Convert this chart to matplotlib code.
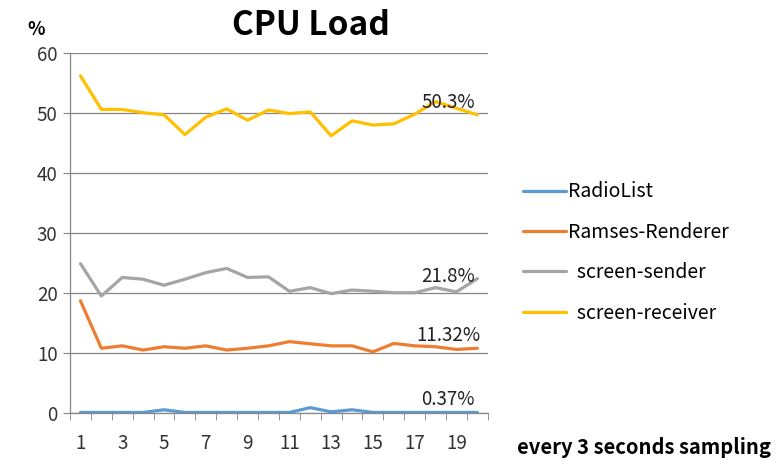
import numpy as np
import matplotlib
matplotlib.use('Agg')
import matplotlib.pyplot as plt

plt.rcParams['font.family'] = ['Noto Sans CJK KR', 'DejaVu Sans']

samples = list(range(1, 21))
radio_list = [0.1, 0.1, 0.1, 0.1, 0.55, 0.1, 0.1, 0.1, 0.1, 0.1,
              0.1, 0.9, 0.2, 0.55, 0.1, 0.1, 0.1, 0.1, 0.1, 0.1]
ramses = [18.7, 10.8, 11.2, 10.5, 11.05, 10.8, 11.2, 10.5, 10.8, 11.2,
          11.9, 11.55, 11.2, 11.2, 10.2, 11.6, 11.2, 11.05, 10.6, 10.8]
sender = [24.9, 19.5, 22.6, 22.3, 21.3, 22.3, 23.4, 24.1, 22.6, 22.7,
          20.3, 20.9, 19.9, 20.5, 20.3, 20.05, 20.05, 20.9, 20.2, 22.4]
receiver = [56.2, 50.6, 50.6, 50.05, 49.7, 46.4, 49.3, 50.7, 48.8, 50.5,
            49.9, 50.2, 46.2, 48.7, 48.0, 48.2, 49.8, 51.9, 50.8, 49.7]

series_names = ['RadioList', 'Ramses-Renderer', '  screen-sender', '  screen-receiver']
colors = ['#5B9BD5', '#ED7D31', '#A5A5A5', '#FFC000']
avg_labels = ['0.37%', '11.32%', '21.8%', '50.3%']
label_y = [2.2, 13.0, 22.8, 51.8]

fig = plt.figure(figsize=(7.78, 4.61), dpi=100)
ax = fig.add_axes([0.09, 0.104, 0.537, 0.781])

for vals, name, c in zip([radio_list, ramses, sender, receiver], series_names, colors):
    ax.plot(samples, vals, color=c, lw=2.3, label=name, solid_capstyle='round')

for txt, y in zip(avg_labels, label_y):
    ax.text(18.6, y, txt, fontsize=13.5, ha='center', va='center', color='#222222')

ax.set_xlim(0.5, 20.5)
ax.set_ylim(0, 60)
ax.set_yticks(range(0, 61, 10))
ax.set_xticks(range(1, 21, 2))
ax.set_xticks(np.arange(0.5, 21, 1), minor=True)
ax.tick_params(axis='x', which='major', length=0, labelsize=13.5, pad=14, colors='#333333')
ax.tick_params(axis='x', which='minor', length=5, color='#868686')
ax.tick_params(axis='y', length=5, color='#868686', labelsize=13.5, colors='#333333', pad=4)
ax.grid(axis='y', color='#868686', lw=0.9)
ax.set_axisbelow(True)
for s in ['top', 'right']:
    ax.spines[s].set_visible(False)
for s in ['left', 'bottom']:
    ax.spines[s].set_color('#868686')
    ax.spines[s].set_linewidth(0.9)

ax.legend(loc='upper left', bbox_to_anchor=(1.065, 0.665), frameon=False,
          fontsize=14, handlelength=2.2, handletextpad=0.15, labelspacing=1.0,
          borderaxespad=0)

fig.text(0.40, 0.945, 'CPU Load', fontsize=24, fontweight='bold', ha='center', va='center')
fig.text(0.046, 0.937, '%', fontsize=13, fontweight='bold', ha='center', va='center')
fig.text(0.664, 0.03, 'every 3 seconds sampling', fontsize=14.5, fontweight='bold',
         ha='left', va='center')

fig.savefig('out.png', dpi=100)
